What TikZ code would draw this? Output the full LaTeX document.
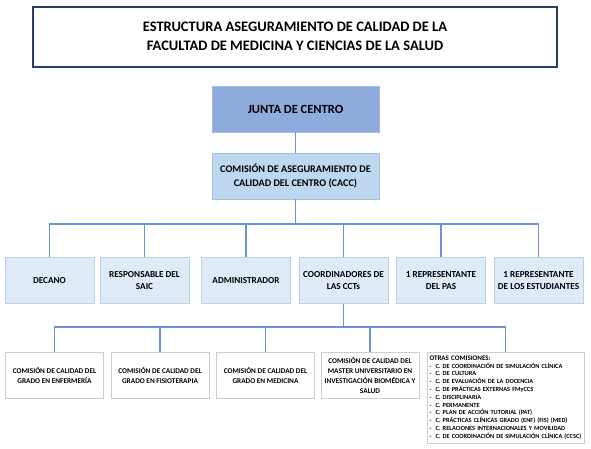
\documentclass[tikz,border=0pt]{standalone}
\usepackage{fontspec}
\setmainfont{Carlito}
\definecolor{titleborder}{RGB}{38,62,110}
\definecolor{juntafill}{RGB}{143,170,220}
\definecolor{caccfill}{RGB}{189,215,238}
\definecolor{caccborder}{RGB}{160,195,228}
\definecolor{rowfill}{RGB}{222,235,247}
\definecolor{rowborder}{RGB}{190,208,230}
\definecolor{whiteborder}{RGB}{200,206,216}
\definecolor{connector}{RGB}{110,145,218}
\tikzset{
  box/.style={rectangle, font=\bfseries, align=center, inner sep=1pt},
  titlebox/.style={box, draw=titleborder, line width=2pt, fill=white,
    minimum width=524pt, minimum height=60pt, font=\bfseries\fontsize{14.5}{18.5}\selectfont},
  juntabox/.style={box, fill=juntafill, draw=juntafill!80!white,
    minimum width=167pt, minimum height=46pt, font=\bfseries\fontsize{12.5}{15}\selectfont},
  caccbox/.style={box, fill=caccfill, draw=caccborder,
    minimum width=167pt, minimum height=46pt, font=\bfseries\fontsize{10.2}{14.5}\selectfont},
  rowbox/.style={box, fill=rowfill, draw=rowborder, line width=0.8pt,
    minimum width=89pt, minimum height=46pt, font=\bfseries\fontsize{9.2}{12.5}\selectfont},
  combox/.style={box, fill=white, draw=whiteborder, line width=0.8pt,
    minimum width=98pt, minimum height=46pt, font=\bfseries\fontsize{7.3}{10}\selectfont},
  otrasbox/.style={rectangle, fill=white, draw=whiteborder, line width=0.8pt,
    align=left, text width=152pt, inner xsep=2.5pt, inner ysep=1pt, minimum height=91pt,
    font=\bfseries\fontsize{6.3}{7.8}\selectfont},
  conn/.style={draw=connector, line width=1.1pt}
}
\begin{document}
\begin{tikzpicture}[x=1pt,y=-1pt]
\useasboundingbox (0,0) rectangle (591,448);
\node[titlebox] (title) at (295,36.5) {ESTRUCTURA ASEGURAMIENTO DE CALIDAD DE LA\\FACULTAD DE MEDICINA Y CIENCIAS DE LA SALUD};
\node[juntabox] (junta) at (295.5,109) {JUNTA DE CENTRO};
\node[caccbox] (cacc) at (295.5,176) {COMISIÓN DE ASEGURAMIENTO DE\\CALIDAD DEL CENTRO (CACC)};
% row 2
\node[rowbox] (decano) at (49.5,280.5) {DECANO};
\node[rowbox] (saic) at (144.5,280.5) {RESPONSABLE DEL\\SAIC};
\node[rowbox] (admin) at (246,280.5) {ADMINISTRADOR};
\node[rowbox] (coord) at (343.5,280.5) {COORDINADORES DE\\LAS CCTs};
\node[rowbox] (pas) at (441,280.5) {1 REPRESENTANTE\\DEL PAS};
\node[rowbox] (estud) at (538.5,280.5) {1 REPRESENTANTE\\DE LOS ESTUDIANTES};
% row 3
\node[combox] (enf) at (54.5,375) {COMISIÓN DE CALIDAD DEL\\GRADO EN ENFERMERÍA};
\node[combox] (fis) at (160,375) {COMISIÓN DE CALIDAD DEL\\GRADO EN FISIOTERAPIA};
\node[combox] (med) at (265.5,375) {COMISIÓN DE CALIDAD DEL\\GRADO EN MEDICINA};
\node[combox] (master) at (370,375) {COMISIÓN DE CALIDAD DEL\\MASTER UNIVERSITARIO EN\\INVESTIGACIÓN BIOMÉDICA Y\\SALUD};
\node[otrasbox] (otras) at (505.5,397.5) {{\fontsize{7}{7.8}\selectfont OTRAS COMISIONES:}\\
-\ \ C. DE COORDINACIÓN DE SIMULACIÓN CLÍNICA\\
-\ \ C. DE CULTURA\\
-\ \ C. DE EVALUACIÓN DE LA DOCENCIA\\
-\ \ C. DE PRÁCTICAS EXTERNAS FMyCCS\\
-\ \ C. DISCIPLINARIA\\
-\ \ C. PERMANENTE\\
-\ \ C. PLAN DE ACCIÓN TUTORIAL (PAT)\\
-\ \ C. PRÁCTICAS CLÍNICAS GRADO (ENF) (FIS) (MED)\\
-\ \ C. RELACIONES INTERNACIONALES Y MOVILIDAD\\
\mbox{-\ \ C. DE COORDINACIÓN DE SIMULACIÓN CLÍNICA (CCSC)}};
% connectors
\coordinate (bar1) at (295.5,224);
\coordinate (bar2) at (343.5,327);
\draw[conn] (junta.south) -- (cacc.north);
\draw[conn] (cacc.south) -- (bar1);
\foreach \n in {decano,saic,admin,coord,pas,estud}
  \draw[conn] (bar1) -| (\n.north);
\draw[conn] (coord.south) -- (bar2);
\foreach \n in {enf,fis,med,master,otras}
  \draw[conn] (bar2) -| (\n.north);
\end{tikzpicture}
\end{document}
